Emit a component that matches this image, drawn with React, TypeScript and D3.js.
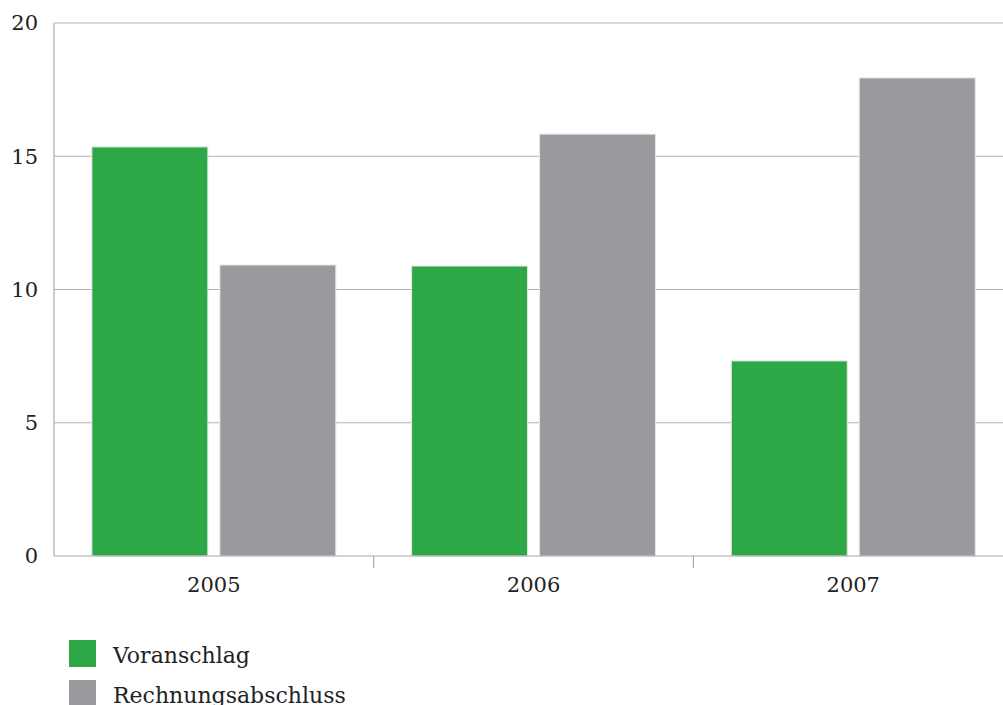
import React from "react";
import * as d3 from "d3";

const years = ["2005", "2006", "2007"];
const seriesNames = ["Voranschlag", "Rechnungsabschluss"];
const voranschlag = [15.35, 10.88, 7.32];
const rechnungsabschluss = [10.92, 15.83, 17.94];
const yTicks = [0, 5, 10, 15, 20];
const colors = ["#2ea846", "#9a999e"];

export default function App() {
  const W = 1003, H = 705;
  const left = 54, top = 23, bottom = 556;
  const x = d3.scaleBand<string>().domain(years).range([left, left + 3 * 319.7]).padding(0);
  const xi = d3.scaleBand<string>().domain(seriesNames).range([0, x.bandwidth()]).paddingInner(0.094).paddingOuter(0.296);
  const y = d3.scaleLinear().domain([0, 20]).range([bottom, top]);
  const values = [voranschlag, rechnungsabschluss];
  const font = "'DejaVu Serif', serif";
  return (
    <svg width={W} height={H} style={{ position: "absolute", left: 0, top: 0 }} fontFamily={font}>
      <rect width={W} height={H} fill="#fff" />
      {yTicks.map((t) => (
        <g key={t}>
          {t > 0 && <line x1={left} x2={W} y1={y(t)} y2={y(t)} stroke="#b4b4b4" strokeWidth={1.2} />}
          <text x={38} y={y(t)} dy="0.35em" textAnchor="end" fontSize={21} fill="#222">{t}</text>
        </g>
      ))}
      {years.map((yr, i) => (
        <g key={yr}>
          {seriesNames.map((s, j) => (
            <rect key={s} x={(x(yr) as number) + (xi(s) as number)} y={y(values[j][i])}
              width={xi.bandwidth()} height={bottom - y(values[j][i])}
              fill={colors[j]} stroke="#e6e6e6" strokeWidth={1} />
          ))}
          <text x={(x(yr) as number) + x.bandwidth() / 2} y={592} textAnchor="middle" fontSize={21} fill="#222">{yr}</text>
          {i > 0 && <line x1={x(yr)} x2={x(yr)} y1={bottom} y2={568} stroke="#aaa" strokeWidth={1.2} />}
        </g>
      ))}
      <line x1={left} x2={left} y1={top} y2={bottom} stroke="#aaa" strokeWidth={1.2} />
      <line x1={left} x2={W} y1={bottom} y2={bottom} stroke="#aaa" strokeWidth={1.2} />
      {seriesNames.map((s, j) => (
        <g key={s}>
          <rect x={69} y={640 + j * 40} width={27} height={27} fill={colors[j]} />
          <text x={113} y={663 + j * 40} fontSize={22} fill="#222">{s}</text>
        </g>
      ))}
    </svg>
  );
}
